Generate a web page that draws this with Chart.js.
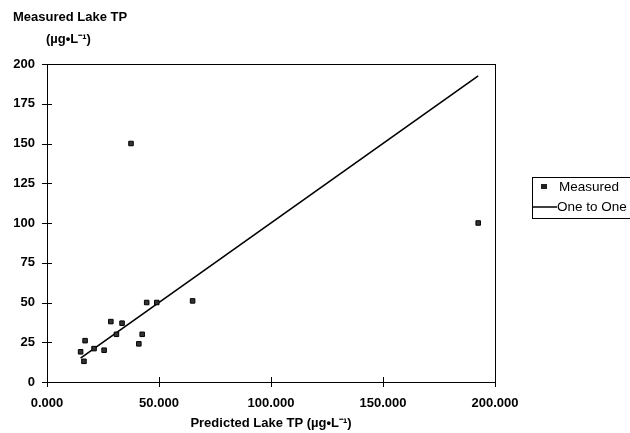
<!DOCTYPE html>
<html>
<head>
<meta charset="utf-8">
<script src="https://cdn.jsdelivr.net/npm/chart.js@4/dist/chart.umd.min.js"></script>
<style>
  html, body { margin: 0; padding: 0; background: #fff; }
  #wrap { width: 630px; height: 433px; }
</style>
</head>
<body>
<div id="wrap"><canvas id="c" width="630" height="433"></canvas></div>
<script>
// ---- Data ----
const predictedTP = [16.5, 15, 17, 21, 25.5, 31, 28.5, 33.5, 41, 42.5, 44.5, 49, 65, 37.5, 192.5];
const measuredTP  = [13, 19, 26, 21, 20, 30, 38, 37, 24, 30, 50, 50, 51, 150, 100];
const oneToOneX   = [15, 192.5];
const oneToOneY   = [15, 192.5];
const xTickLabels = ['0.000', '50.000', '100.000', '150.000', '200.000'];
const yTickLabels = ['0', '25', '50', '75', '100', '125', '150', '175', '200'];
const seriesNames = ['Measured', 'One to One'];
const yTitleLines = ['Measured Lake TP', '(\u00b5g\u2022L\u207b\u00b9)'];
const xTitle = 'Predicted Lake TP (\u00b5g\u2022L\u207b\u00b9)';

const FONT = "'Liberation Sans', Arial, sans-serif";

const framePlugin = {
  id: 'frame',
  afterDraw(chart) {
    const ctx = chart.ctx;
    const a = chart.chartArea;
    const xs = chart.scales.x, ys = chart.scales.y;
    ctx.save();
    // plot frame
    ctx.strokeStyle = '#000';
    ctx.lineWidth = 1;
    ctx.strokeRect(Math.round(a.left) + 0.5, Math.round(a.top) + 0.5,
                   Math.round(a.right - a.left), Math.round(a.bottom - a.top));
    // crossing tick marks
    xs.ticks.forEach(t => {
      const px = Math.round(xs.getPixelForValue(t.value)) + 0.5;
      ctx.beginPath();
      ctx.moveTo(px, a.bottom - 5);
      ctx.lineTo(px, a.bottom + 5);
      ctx.stroke();
    });
    ys.ticks.forEach(t => {
      const py = Math.round(ys.getPixelForValue(t.value)) + 0.5;
      ctx.beginPath();
      ctx.moveTo(a.left - 5, py);
      ctx.lineTo(a.left + 5, py);
      ctx.stroke();
    });
    // y-axis title (top-left)
    ctx.fillStyle = '#000';
    ctx.font = "bold 13px " + FONT;
    ctx.textBaseline = 'middle';
    ctx.textAlign = 'left';
    ctx.fillText(yTitleLines[0], 13, 17);
    ctx.fillText(yTitleLines[1], 46, 39);
    // legend
    const lx = 532, ly = 177, lw = 110, lh = 41;
    ctx.lineWidth = 1;
    ctx.strokeRect(lx + 0.5, ly + 0.5, lw, lh);
    // marker
    ctx.fillStyle = '#222';
    ctx.fillRect(541, 184, 6, 5);
    ctx.fillStyle = '#000';
    ctx.font = "13.5px " + FONT;
    ctx.fillText(chart.data.datasets[0].label, 559, 187);
    ctx.beginPath();
    ctx.lineWidth = 1.5;
    ctx.moveTo(533, 207);
    ctx.lineTo(557, 207);
    ctx.stroke();
    ctx.fillText(chart.data.datasets[1].label, 557, 207);
    ctx.restore();
  }
};

new Chart(document.getElementById('c'), {
  type: 'scatter',
  data: {
    datasets: [
      {
        label: seriesNames[0],
        data: predictedTP.map((x, i) => ({ x: x, y: measuredTP[i] })),
        pointStyle: 'rect',
        pointRadius: 3.2,
        pointHoverRadius: 3.2,
        backgroundColor: '#333',
        borderColor: '#000',
        borderWidth: 1,
        showLine: false
      },
      {
        label: seriesNames[1],
        data: oneToOneX.map((x, i) => ({ x: x, y: oneToOneY[i] })),
        showLine: true,
        borderColor: '#000',
        borderWidth: 1.6,
        pointRadius: 0,
        pointHoverRadius: 0,
        fill: false
      }
    ]
  },
  options: {
    responsive: false,
    animation: false,
    layout: { padding: { left: 0, right: 135, top: 64, bottom: 0 } },
    plugins: {
      legend: { display: false },
      tooltip: { enabled: false },
      title: { display: false }
    },
    scales: {
      x: {
        type: 'linear',
        min: 0, max: 200,
        afterFit(scale) { scale.height = 433 - 382; },
        afterBuildTicks(scale) {
          scale.ticks = xTickLabels.map((l, i) => ({ value: i * 50 }));
        },
        grid: { display: false, drawTicks: false },
        border: { display: true, color: '#000', width: 1 },
        ticks: {
          padding: 14,
          color: '#000',
          maxRotation: 0,
          font: { family: FONT, size: 13, weight: 'bold' },
          callback: (v, i) => xTickLabels[i]
        },
        title: {
          display: true,
          text: xTitle,
          color: '#000',
          padding: { top: 2, bottom: 2 },
          font: { family: FONT, size: 13, weight: 'bold' }
        }
      },
      y: {
        type: 'linear',
        min: 0, max: 200,
        afterFit(scale) { scale.width = 47; },
        afterBuildTicks(scale) {
          scale.ticks = yTickLabels.map((l, i) => ({ value: i * 25 }));
        },
        grid: { display: false, drawTicks: false },
        border: { display: true, color: '#000', width: 1 },
        ticks: {
          padding: 12,
          color: '#000',
          font: { family: FONT, size: 13, weight: 'bold' },
          callback: (v, i) => yTickLabels[i]
        }
      }
    }
  },
  plugins: [framePlugin]
});
</script>
</body>
</html>
